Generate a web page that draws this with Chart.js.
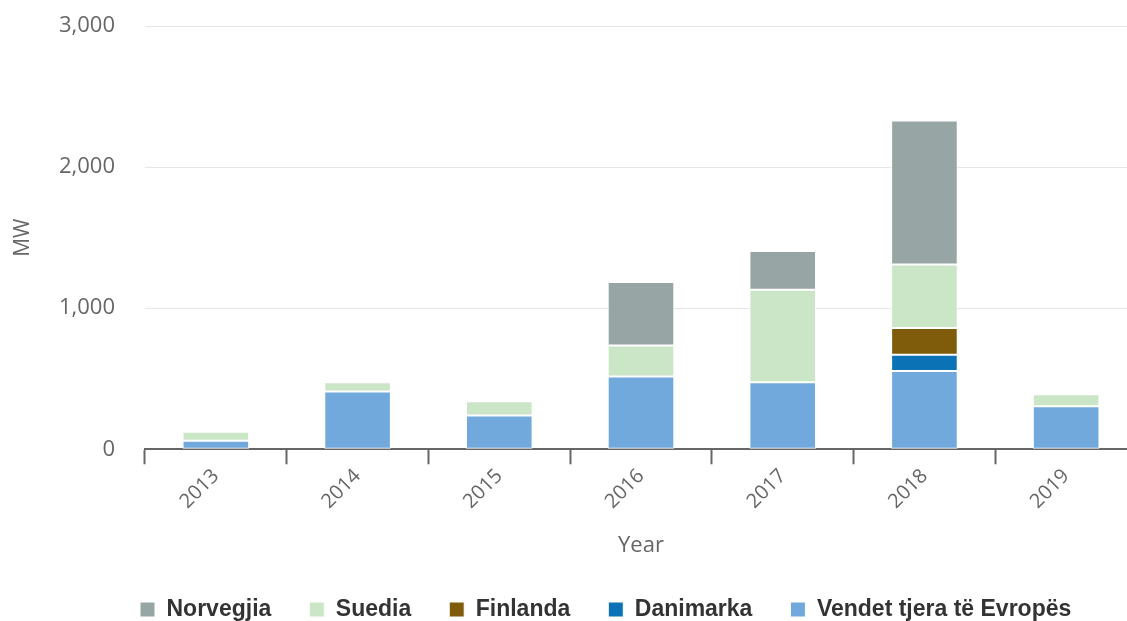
<!DOCTYPE html>
<html>
<head>
<meta charset="utf-8">
<script src="https://cdn.jsdelivr.net/npm/chart.js@4/dist/chart.umd.min.js"></script>
<style>
  html, body { margin: 0; padding: 0; overflow: hidden; background: #fff; }
  #wrap { position: relative; width: 1137px; height: 621px; }
</style>
</head>
<body>
<div id="wrap"><canvas id="c"></canvas></div>
<script>
const categories = ['2013', '2014', '2015', '2016', '2017', '2018', '2019'];
const norvegjia = [0, 0, 0, 450, 275, 1020, 0];
const suedia = [65, 65, 100, 220, 655, 450, 85];
const finlanda = [0, 0, 0, 0, 0, 190, 0];
const danimarka = [0, 0, 0, 0, 0, 115, 0];
const vendetTjera = [60, 410, 240, 515, 475, 555, 305];
const yTicks = [0, 1000, 2000, 3000];

// stacking order bottom -> top; legend shown reversed (Norvegjia first)
const seriesNames = ['Vendet tjera të Evropës', 'Danimarka', 'Finlanda', 'Suedia', 'Norvegjia'];
const seriesData = [vendetTjera, danimarka, finlanda, suedia, norvegjia];
const seriesColors = ['#71a9dc', '#0b72b5', '#7e5c0c', '#cbe6c7', '#97a6a4'];

const datasets = seriesNames.map((n, i) => ({
  label: n,
  data: seriesData[i],
  backgroundColor: seriesColors[i],
  borderColor: '#ffffff',
  borderWidth: 1,
  borderSkipped: false,
  barPercentage: 0.47,
  categoryPercentage: 1.0
}));

// legend placement tweaks: shorter box, left-anchored start
const legendTweak = {
  id: 'legendTweak',
  beforeUpdate(chart) {
    const lg = chart.legend;
    if (lg && !lg._patched) {
      const origFit = lg.fit;
      lg.fit = function () { origFit.call(this); this.height = Math.max(0, this.height - 10); };
      lg._patched = true;
    }
  },
  beforeDraw(chart) {
    const lg = chart.legend;
    if (!lg) return;
    const w = lg.right - lg.left;
    lg.left = 140 - lg.options.labels.padding;
    lg.right = lg.left + w;
  }
};

Chart.defaults.font.family = '"Open Sans", "DejaVu Sans", sans-serif';
Chart.defaults.color = '#666';

new Chart(document.getElementById('c'), {
  type: 'bar',
  data: { labels: categories, datasets: datasets },
  plugins: [legendTweak],
  options: {
    responsive: true,
    maintainAspectRatio: false,
    animation: false,
    layout: { padding: { top: 0, left: 0, right: 0, bottom: 0 } },
    plugins: {
      tooltip: { enabled: false },
      legend: {
        position: 'bottom',
        align: 'start',
        reverse: true,
        labels: {
          boxWidth: 15,
          boxHeight: 15,
          padding: 38,
          color: '#333',
          font: { family: '"Liberation Sans", Arial, sans-serif', size: 23, weight: 'bold' }
        }
      }
    },
    scales: {
      x: {
        stacked: true,
        offset: true,
        grid: {
          offset: true,
          drawOnChartArea: false,
          drawTicks: true,
          tickLength: 15,
          tickWidth: 2,
          tickColor: '#666'
        },
        border: { display: true, color: '#666', width: 2 },
        ticks: {
          minRotation: 45,
          maxRotation: 45,
          padding: 0,
          color: '#666',
          font: { size: 20 }
        },
        title: {
          display: true,
          text: 'Year',
          color: '#666',
          font: { size: 22 },
          padding: { top: 19, bottom: 1 }
        }
      },
      y: {
        stacked: true,
        min: 0,
        max: 3000,
        afterBuildTicks: (axis) => { axis.ticks = yTicks.map(v => ({ value: v })); },
        afterFit: (axis) => { axis.paddingTop = 26; axis.paddingBottom = 12; axis.width = 145; },
        grid: { color: '#e6e6e6', lineWidth: 1, drawTicks: false },
        border: { display: false },
        ticks: {
          padding: 30,
          color: '#666',
          font: { size: 22 },
          callback: (v) => v.toLocaleString('en-US')
        },
        title: {
          display: true,
          text: 'MW',
          color: '#666',
          font: { size: 21 },
          padding: { top: 10, bottom: 24 }
        }
      }
    }
  }
});
</script>
</body>
</html>
